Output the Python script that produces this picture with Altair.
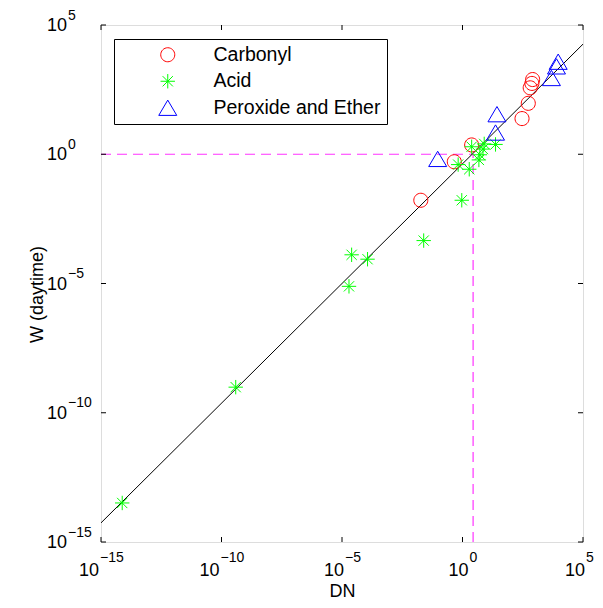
import altair as alt
import pandas as pd

FONT = "Liberation Sans, Arial, Helvetica, sans-serif"
W, H = 482, 517

# ---- data (log10 values) ----
carbonyl_log_dn = [-1.73, -0.34, 0.38, 2.47, 2.73, 2.81, 2.88, 2.91]
carbonyl_log_w = [-1.78, -0.29, 0.36, 1.38, 1.97, 2.57, 2.74, 2.89]

acid_log_dn = [-14.12, -9.41, -4.60, -3.94, -4.71, -1.61, -0.03, -0.18, 0.28,
               0.38, 0.72, 0.85, 0.68, 0.90, 1.37]
acid_log_w = [-13.49, -9.01, -3.89, -4.06, -5.11, -3.34, -1.78, -0.40, -0.58,
              0.29, -0.02, 0.20, -0.22, 0.40, 0.38]

perox_log_dn = [-1.03, 1.37, 1.43, 3.69, 3.90, 3.97]
perox_log_w = [-0.18, 0.84, 1.55, 2.95, 3.40, 3.58]

fit_log_dn = [-15.0, 5.0]
fit_log_w = [-14.26, 4.26]

ref_log_dn = 0.44   # vertical dashed line
ref_log_w = 0.0     # horizontal dashed line

tick_exponents = [-15, -10, -5, 0, 5]
series_names = ["Carbonyl", "Acid", "Peroxide and Ether"]
series_colors = ["#ff0000", "#00ff00", "#0000ff"]

# ---- tables ----
rows = []
for name, lx, ly in [("Carbonyl", carbonyl_log_dn, carbonyl_log_w),
                     ("Acid", acid_log_dn, acid_log_w),
                     ("Peroxide and Ether", perox_log_dn, perox_log_w)]:
    for a, b in zip(lx, ly):
        rows.append({"dn": 10 ** a, "w": 10 ** b, "type": name})
pts = pd.DataFrame(rows)

fit = pd.DataFrame({"dn": [10 ** v for v in fit_log_dn],
                    "w": [10 ** v for v in fit_log_w]})

lo = 10.0 ** tick_exponents[0]
refs = pd.DataFrame({
    "dn": [lo, 10 ** ref_log_dn],
    "dn2": [10 ** ref_log_dn, 10 ** ref_log_dn],
    "w": [10 ** ref_log_w, lo],
    "w2": [10 ** ref_log_w, 10 ** ref_log_w],
})


def exp_text(e):
    return str(e).replace("-", "\u2212")


def exp_width(s):
    return sum(8.2 if c == "\u2212" else 7.8 for c in s)


ticks = pd.DataFrame({"v": [10.0 ** e for e in tick_exponents],
                      "exp": [exp_text(e) for e in tick_exponents]})

xs = alt.Scale(type="log", domain=[1e-15, 1e5], nice=False)
ys = alt.Scale(type="log", domain=[1e-15, 1e5], nice=False)

AX = alt.Axis(title="DN", labels=False, ticks=False, domain=False,
              grid=False, titleFont=FONT, titleFontSize=18,
              titleFontWeight="normal", titleColor="black",
              titleY=54, titleBaseline="alphabetic")
AY = alt.Axis(title="W (daytime)", labels=False, ticks=False,
              domain=False, grid=False, titleFont=FONT,
              titleFontSize=18, titleFontWeight="normal",
              titleColor="black", titleX=-59, titleY=269,
              titleBaseline="alphabetic", titleAngle=270)


def X(f):
    return alt.X(f, scale=xs, axis=AX, title="DN")


def Y(f):
    return alt.Y(f, scale=ys, axis=AY, title="W (daytime)")


CIRCLE = "M-0.78,0A0.78,0.78 0 1,0 0.78,0A0.78,0.78 0 1,0 -0.78,0Z"
STAR = ("M-0.8,0L0.8,0M0,-0.8L0,0.8M-0.57,-0.57L0.57,0.57"
        "M-0.57,0.57L0.57,-0.57")
TRI = "M0,-0.85L1,0.85L-1,0.85Z"

legend = alt.Legend(title=None, orient="none", legendX=13, legendY=14,
                    strokeColor="black", fillColor="white", padding=6,
                    symbolOffset=38, labelOffset=36, labelFontSize=19.5,
                    labelFont=FONT, labelColor="black", labelLimit=400,
                    labelExpr="datum.label + '\u00a0'",
                    symbolSize=324, symbolStrokeWidth=1, rowPadding=5.5)

points = alt.Chart(pts).mark_point(filled=False, size=324, strokeWidth=1,
                                   opacity=1).encode(
    x=X("dn:Q"),
    y=Y("w:Q"),
    color=alt.Color("type:N", scale=alt.Scale(domain=series_names,
                                              range=series_colors),
                    legend=legend),
    shape=alt.Shape("type:N", scale=alt.Scale(domain=series_names,
                                              range=[CIRCLE, STAR, TRI]),
                    legend=legend),
)

fit_line = alt.Chart(fit).mark_line(color="black", strokeWidth=1).encode(
    x=X("dn:Q"), y=Y("w:Q"),
)

ref_lines = alt.Chart(refs).mark_rule(color="#ff33ff", strokeWidth=1.2,
                                      strokeDash=[10, 6]).encode(
    x=X("dn:Q"), x2="dn2:Q",
    y=Y("w:Q"), y2="w2:Q",
)

TL = 5
tick_layers = [
    alt.Chart(ticks).mark_rule(color="black").encode(
        x=X("v:Q"), y=alt.value(H), y2=alt.value(H - TL)),
    alt.Chart(ticks).mark_rule(color="black").encode(
        x=X("v:Q"), y=alt.value(0), y2=alt.value(TL)),
    alt.Chart(ticks).mark_rule(color="black").encode(
        y=Y("v:Q"), x=alt.value(0), x2=alt.value(TL)),
    alt.Chart(ticks).mark_rule(color="black").encode(
        y=Y("v:Q"), x=alt.value(W), x2=alt.value(W - TL)),
]

# bottom labels: "10" + superscript exponent, the pair centred on the tick
label_layers = []
for e in tick_exponents:
    s = exp_text(e)
    off = 10 - exp_width(s) / 2
    if e == tick_exponents[-1]:
        off -= 4  # keep the last label inside the canvas
    sub = ticks[ticks["exp"] == s]
    label_layers.append(
        alt.Chart(sub).mark_text(align="right", baseline="alphabetic",
                                 fontSize=18, font=FONT, color="black",
                                 text="10", dx=off).encode(
            x=X("v:Q"), y=alt.value(H + 33.5)))
    label_layers.append(
        alt.Chart(sub).mark_text(align="left", baseline="alphabetic",
                                 fontSize=14, font=FONT, color="black",
                                 dx=off + 1).encode(
            x=X("v:Q"), y=alt.value(H + 19.5), text="exp:N"))

label_layers += [
    alt.Chart(ticks).mark_text(align="left", baseline="alphabetic",
                               fontSize=18, font=FONT, color="black",
                               text="10", dy=6.2).encode(
        y=Y("v:Q"), x=alt.value(-54)),
    alt.Chart(ticks).mark_text(align="left", baseline="alphabetic",
                               fontSize=14, font=FONT, color="black",
                               dy=-5.5).encode(
        y=Y("v:Q"), x=alt.value(-33), text="exp:N"),
]

chart = alt.layer(ref_lines, fit_line, points, *tick_layers, *label_layers).properties(
    width=W, height=H,
    autosize=alt.AutoSizeParams(type="none"),
    padding={"left": 93, "top": 17, "right": 12, "bottom": 58},
).configure_view(stroke="black", strokeWidth=1).configure(
    font=FONT, background="white"
)

chart.save("out.html", embed_options={"renderer": "svg", "actions": False})
